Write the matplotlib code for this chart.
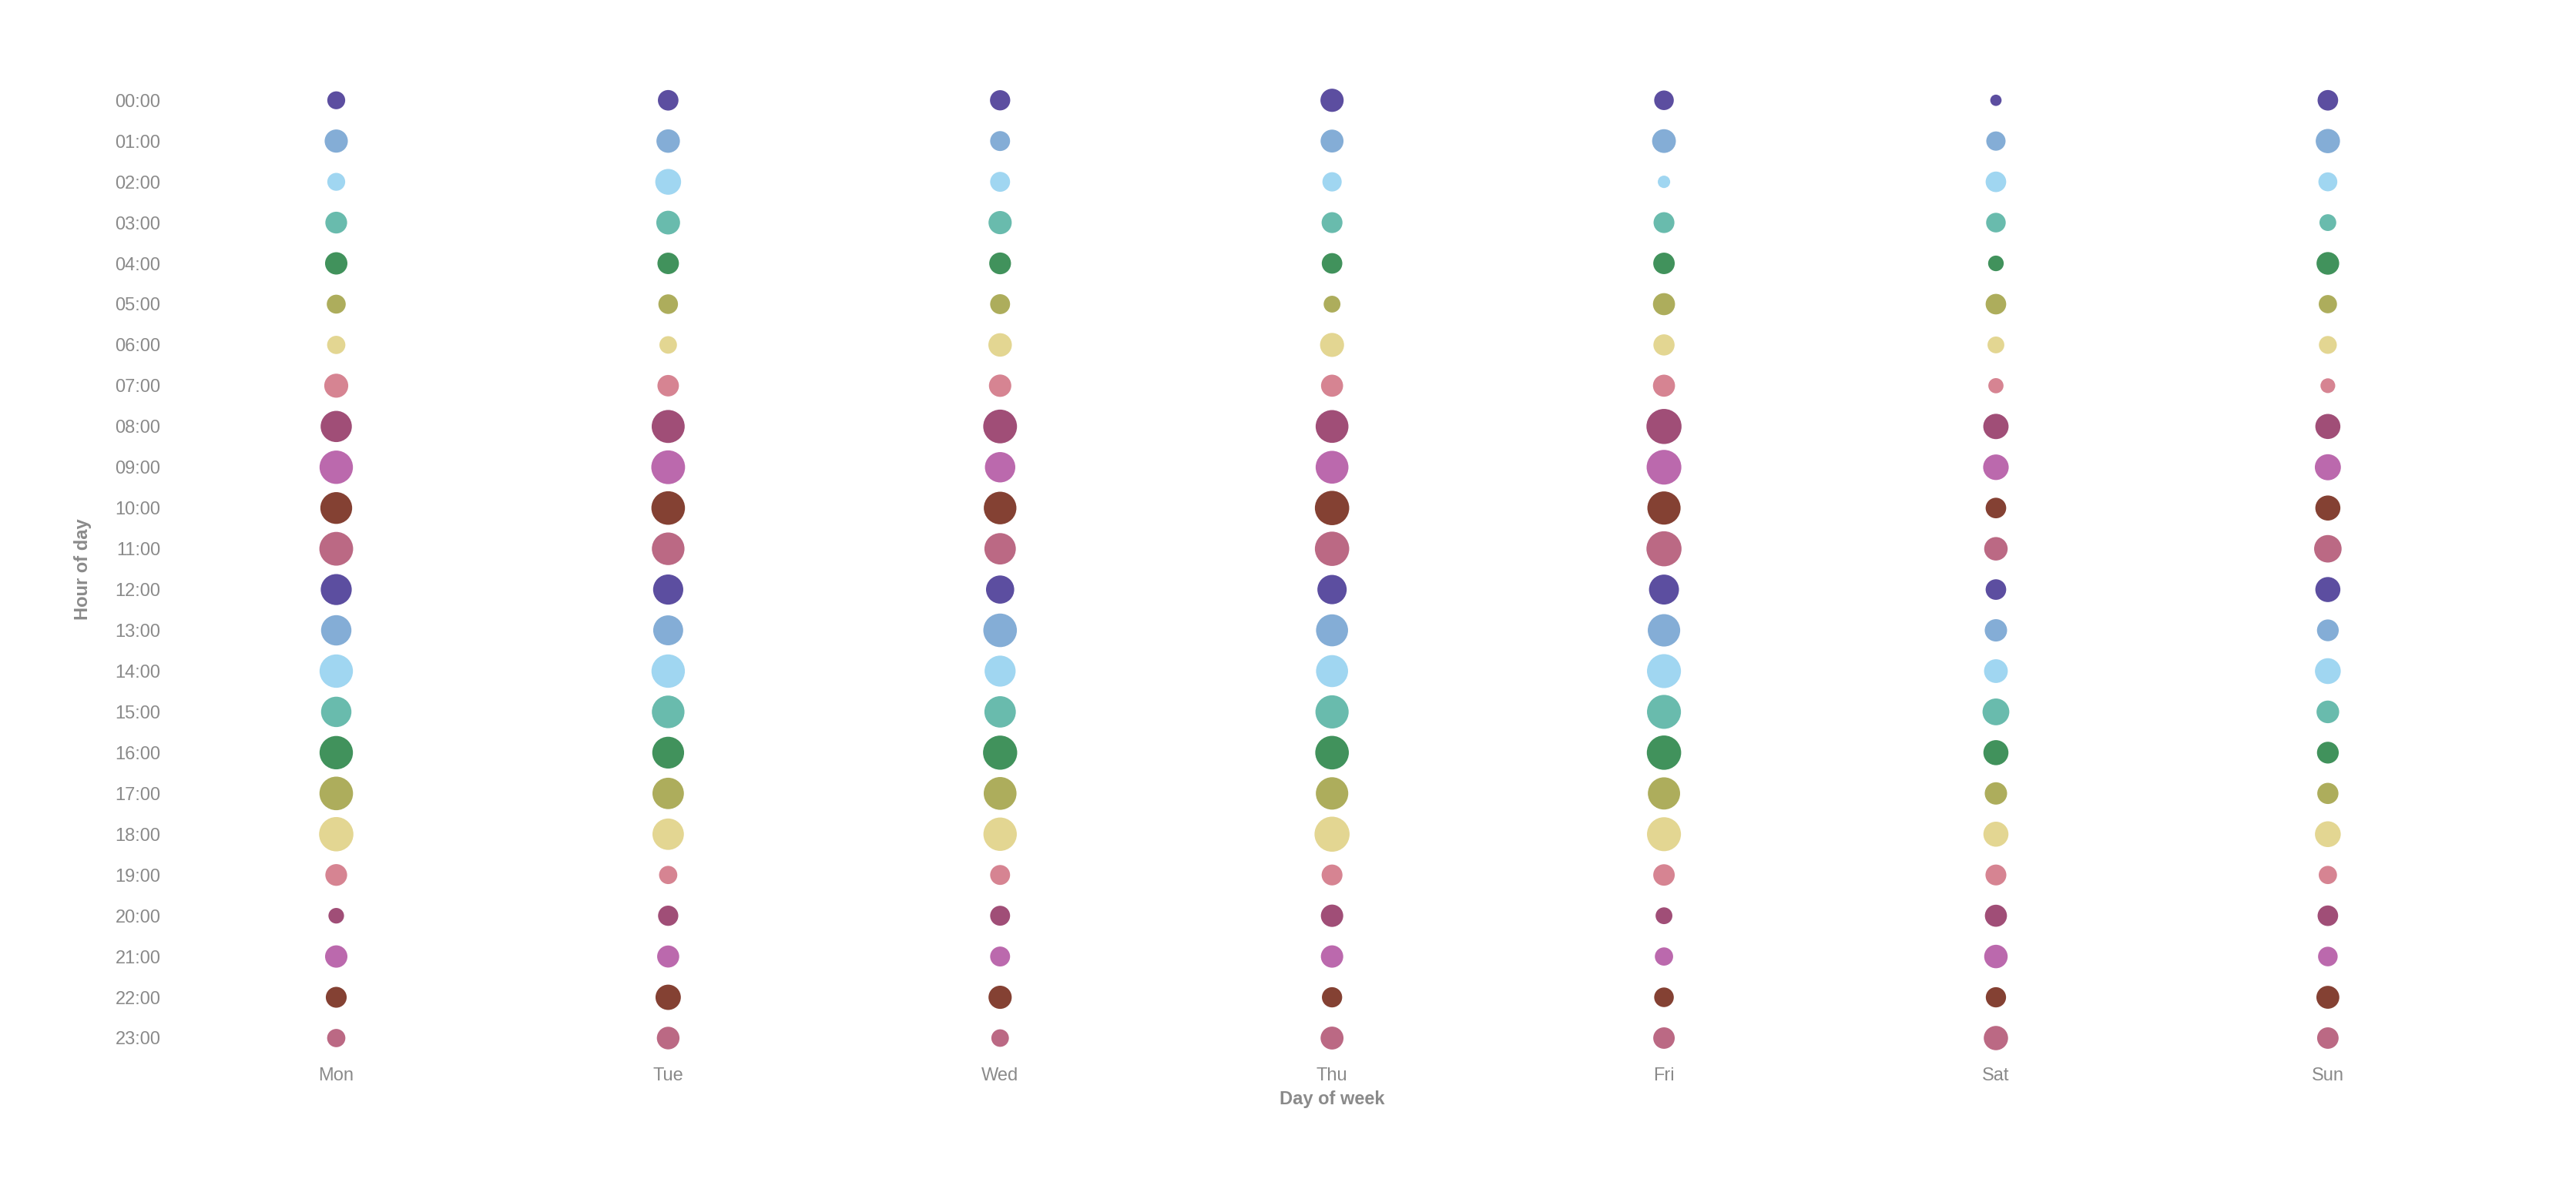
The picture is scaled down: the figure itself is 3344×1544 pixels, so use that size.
import numpy as np
import matplotlib.pyplot as plt

plt.rcParams['font.family'] = ['Liberation Sans', 'DejaVu Sans']

days = ["Mon", "Tue", "Wed", "Thu", "Fri", "Sat", "Sun"]
hours = [f"{h:02d}:00" for h in range(24)]

# activity counts per hour (00:00 .. 23:00) for each day
mon = [25, 42, 25, 37, 39, 28, 26, 45, 76, 87, 79, 89, 75, 72, 87, 72, 87, 88, 92, 37, 19, 39, 34, 26]
tue = [33, 43, 52, 44, 36, 30, 24, 36, 85, 89, 88, 83, 71, 70, 87, 83, 79, 77, 77, 26, 32, 38, 50, 40]
wed = [32, 31, 31, 42, 37, 31, 43, 39, 89, 72, 83, 77, 62, 88, 75, 77, 91, 84, 87, 31, 31, 31, 42, 24]
thu = [42, 41, 29, 34, 33, 22, 45, 38, 84, 84, 92, 92, 67, 80, 80, 86, 88, 82, 96, 34, 39, 39, 32, 41]
fri = [30, 44, 12, 34, 36, 38, 35, 38, 96, 94, 86, 96, 70, 82, 90, 90, 92, 81, 90, 36, 22, 26, 30, 36]
sat = [10, 29, 33, 30, 19, 33, 22, 18, 50, 51, 33, 43, 33, 39, 44, 56, 49, 39, 49, 34, 38, 43, 32, 46]
sun = [33, 46, 28, 22, 40, 26, 25, 17, 49, 53, 49, 59, 49, 37, 52, 40, 37, 35, 52, 26, 33, 30, 41, 36]

palette = ["#332288", "#6699CC", "#88CCEE", "#44AA99", "#117733", "#999933",
           "#DDCC77", "#CC6677", "#882255", "#AA4499", "#661100", "#AA4466"]

counts = np.array([mon, tue, wed, thu, fri, sat, sun])
grey = "#8a8a8a"

fig = plt.figure(figsize=(16.72, 7.72), dpi=200)
ax = fig.add_axes([0.0661, 0.1098, 0.902, 0.823])

hour_colors = [palette[h % len(palette)] for h in range(24)]
for d in range(len(days)):
    ax.scatter(np.full(24, d), np.arange(24), s=counts[d] * 2.8,
               c=hour_colors, alpha=0.8, linewidths=0, zorder=3)

ax.set_xlim(-0.5, len(days) - 0.5)
ax.set_ylim(23.5, -0.5)
ax.set_xticks(range(len(days)))
ax.set_xticklabels(days)
ax.set_yticks(range(24))
ax.set_yticklabels(hours)
ax.tick_params(length=0, labelsize=8.5, labelcolor=grey, pad=4)
ax.tick_params(axis='y', pad=4.5)
for s in ax.spines.values():
    s.set_visible(False)

ax.set_xlabel("Day of week", fontsize=8.5, fontweight='bold', color=grey, labelpad=3)
ax.set_ylabel("Hour of day", fontsize=8.5, fontweight='bold', color=grey, labelpad=11)

fig.savefig("out.png", dpi=200, facecolor="white")
